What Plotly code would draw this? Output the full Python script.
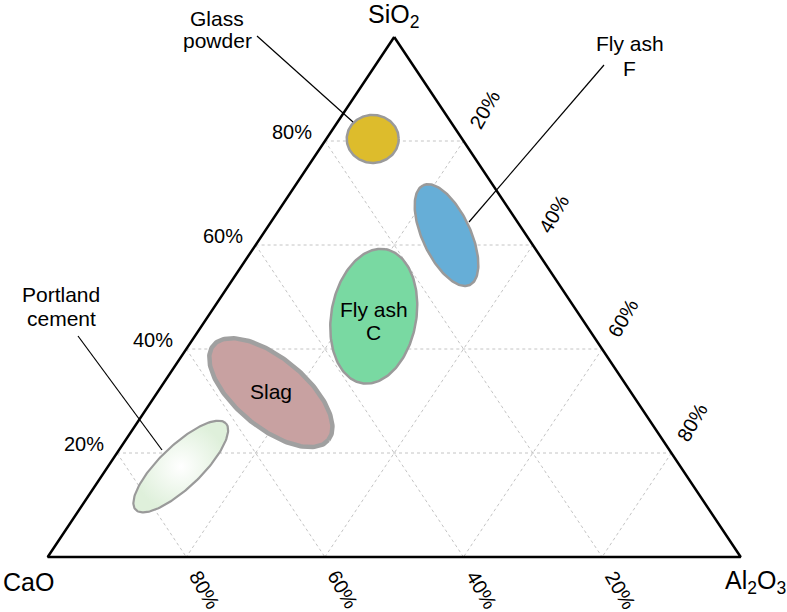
import numpy as np
import plotly.graph_objects as go

# ---------------- data ----------------
corner_names = ["SiO<sub>2</sub>", "CaO", "Al<sub>2</sub>O<sub>3</sub>"]
tick_values = [20, 40, 60, 80]
tick_labels = ["20%", "40%", "60%", "80%"]

materials = ["Glass powder", "Fly ash F", "Fly ash C", "Slag", "Portland cement"]
sio2 = [80.4, 61.9, 46.3, 31.6, 17.4]
cao = [12.9, 11.5, 29.8, 52.0, 72.1]
al2o3 = [6.7, 26.6, 23.9, 16.4, 10.5]

# ---------------- styles ----------------
fill_colors = ["#DDBC2C", "#66AED7", "#79D9A2", "#C8A1A1", None]
edge_colors = ["#9a9a9a", "#9a9a9a", "#9a9a9a", "#a0a0a0", "#9a9a9a"]
edge_widths = [2.5, 2.5, 2.5, 4.5, 2.2]
semi_major = [26, 55, 68, 74.5, 62.5]   # px
semi_minor = [24, 24, 42.5, 34.8, 21]   # px
angles = [0, 115, 80, -39.5, 43.8]     # deg (counter-clockwise, screen)

FONT = "Liberation Sans, Arial, sans-serif"
W, H = 787, 612
X0_PX, X1_PX = 47.7, 740.7
Y_BOT_PX, Y_TOP_PX = 557.0, 37.0
PX_X = X1_PX - X0_PX
PX_Y = Y_BOT_PX - Y_TOP_PX
x_range = [-X0_PX / PX_X, (W - X0_PX) / PX_X]
y_range = [-(H - Y_BOT_PX) / PX_Y, 1 + Y_TOP_PX / PX_Y]


def tern(a, b, c):
    s = a + b + c
    return (c + a / 2) / s, a / s


def paper(px, py):
    return px / W, 1 - py / H


fig = go.Figure()

# grid lines
gx, gy = [], []
for k in tick_values:
    f = k / 100
    for p, q in [((f, 1 - f, 0), (f, 0, 1 - f)),      # SiO2 = k
                 ((1 - f, f, 0), (0, f, 1 - f)),      # CaO = k
                 ((1 - f, 0, f), (0, 1 - f, f))]:     # Al2O3 = k
        x1, y1 = tern(*p)
        x2, y2 = tern(*q)
        gx += [x1, x2, None]
        gy += [y1, y2, None]
fig.add_trace(go.Scatter(x=gx, y=gy, mode="lines",
                         line=dict(color="#c4c4c4", width=1, dash="dot"),
                         hoverinfo="skip"))

# triangle
verts = [tern(1, 0, 0), tern(0, 1, 0), tern(0, 0, 1), tern(1, 0, 0)]
fig.add_trace(go.Scatter(x=[v[0] for v in verts], y=[v[1] for v in verts],
                         mode="lines", line=dict(color="black", width=2.5),
                         hoverinfo="skip"))

# ellipses
t = np.linspace(0, 2 * np.pi, 181)
for i, name in enumerate(materials):
    xc, yc = tern(sio2[i], cao[i], al2o3[i])
    phi = np.radians(angles[i])
    a, b = semi_major[i], semi_minor[i]
    dx = a * np.cos(t) * np.cos(phi) - b * np.sin(t) * np.sin(phi)
    dy = a * np.cos(t) * np.sin(phi) + b * np.sin(t) * np.cos(phi)
    kw = dict(x=xc + dx / PX_X, y=yc + dy / PX_Y, mode="lines", fill="toself",
              line=dict(color=edge_colors[i], width=edge_widths[i]),
              name=name, hoverinfo="name")
    if fill_colors[i] is None:
        kw["fillgradient"] = dict(type="radial",
                                  colorscale=[[0, "#ffffff"], [1, "#dff0db"]])
    else:
        kw["fillcolor"] = fill_colors[i]
    fig.add_trace(go.Scatter(**kw))

annotations = []
tick_font = dict(family=FONT, size=20, color="black")
for k, lab in zip(tick_values, tick_labels):
    f = k / 100
    x, y = tern(f, 1 - f, 0)
    annotations.append(dict(x=x, y=y, text=lab, showarrow=False, font=tick_font,
                            xanchor="right", yanchor="middle", xshift=-11, yshift=9))
    x, y = tern(1 - f, 0, f)
    annotations.append(dict(x=x, y=y, text=lab, showarrow=False, font=tick_font,
                            textangle=-60, xanchor="center", yanchor="middle",
                            xshift=21, yshift=31))
    x, y = tern(0, f, 1 - f)
    annotations.append(dict(x=x, y=y, text=lab, showarrow=False, font=tick_font,
                            textangle=60, xanchor="center", yanchor="middle",
                            xshift=18.5, yshift=-32.5))

corner_font = dict(family=FONT, size=25, color="black")
for name, (px, py) in zip(corner_names, [(393, 16), (28, 582), (755, 582)]):
    x, y = paper(px, py)
    annotations.append(dict(x=x, y=y, xref="paper", yref="paper", text=name,
                            showarrow=False, font=corner_font,
                            xanchor="center", yanchor="middle"))

label_font = dict(family=FONT, size=21, color="black")
label_lines = [("Glass", 217, 18), ("powder", 217, 41),
               ("Fly ash", 630, 44), ("F", 629, 68),
               ("Portland", 61, 294), ("cement", 61, 318),
               ("Fly ash", 373.5, 309), ("C", 373.5, 332),
               ("Slag", 271, 392)]
for txt, px, py in label_lines:
    x, y = paper(px, py)
    annotations.append(dict(x=x, y=y, xref="paper", yref="paper", text=txt,
                            showarrow=False, font=label_font,
                            xanchor="center", yanchor="middle"))

shapes = []
for (x1, y1), (x2, y2) in [((257, 36), (353, 122)),
                           ((604, 65), (469, 222)),
                           ((78, 336), (162, 450))]:
    a1, b1 = paper(x1, y1)
    a2, b2 = paper(x2, y2)
    shapes.append(dict(type="line", xref="paper", yref="paper",
                       x0=a1, y0=b1, x1=a2, y1=b2,
                       line=dict(color="black", width=1.2)))

fig.update_layout(
    width=W, height=H,
    margin=dict(l=0, r=0, t=0, b=0),
    paper_bgcolor="white", plot_bgcolor="white",
    showlegend=False,
    xaxis=dict(range=x_range, visible=False, fixedrange=True),
    yaxis=dict(range=y_range, visible=False, fixedrange=True),
    annotations=annotations,
    shapes=shapes,
)

fig.write_html(
    "out.html",
    config={"displayModeBar": False},
    post_script="document.body.style.margin='0px';document.body.style.overflow='hidden';",
)
